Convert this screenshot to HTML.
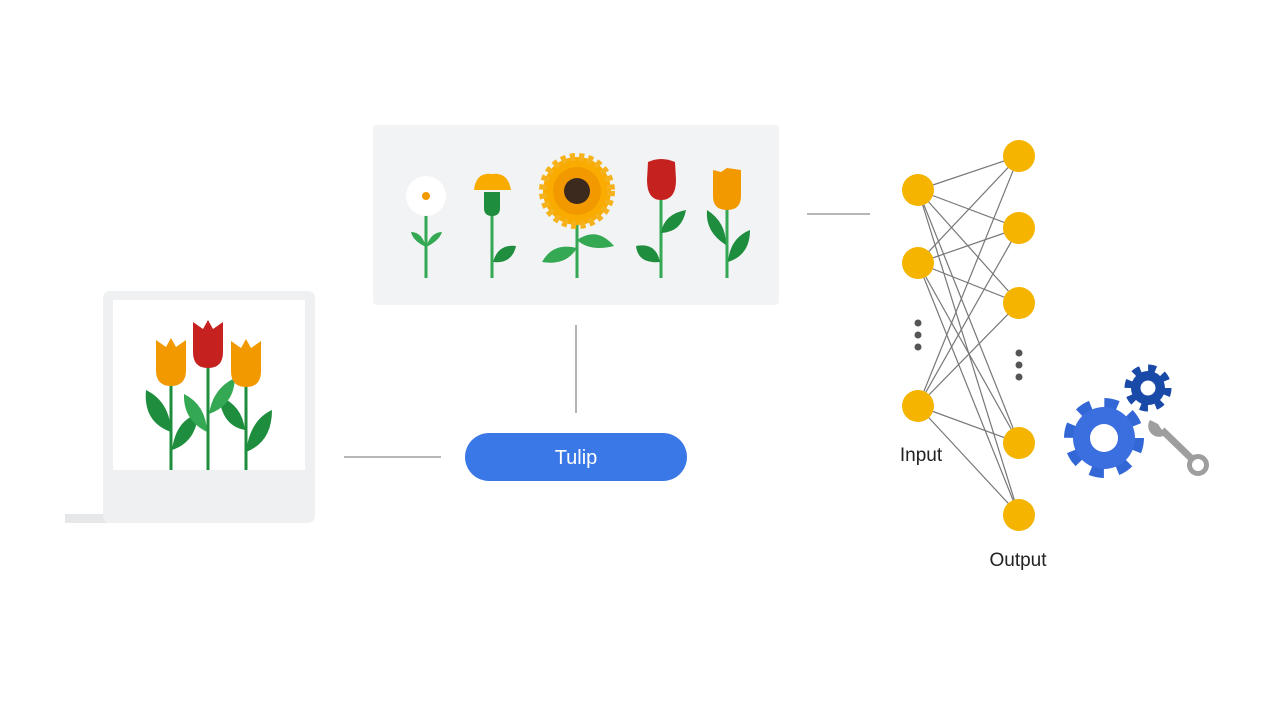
<!DOCTYPE html>
<html><head><meta charset="utf-8"><style>
html,body{margin:0;padding:0;background:#fff;}
svg{display:block}
text{font-family:"Liberation Sans",sans-serif}
</style></head><body>
<svg width="1280" height="720" viewBox="0 0 1280 720" xmlns="http://www.w3.org/2000/svg">
<defs>
<g id="tulipHead"><path d="M-15,-24 L-5,-17 L0,-26 L5,-17 L15,-24 L15,6 Q15,22 0,22 Q-15,22 -15,6 Z"/></g>
</defs>
<g stroke="#8a8a8a" stroke-width="1.3">
<line x1="807" y1="214" x2="870" y2="214"/>
<line x1="576" y1="325" x2="576" y2="413"/>
<line x1="344" y1="457" x2="441" y2="457"/>
</g>
<rect x="65" y="514" width="80" height="9" fill="#e6e7e9"/>
<rect x="103" y="291" width="212" height="232" rx="7" fill="#eef0f2"/>
<rect x="113" y="300" width="192" height="170" fill="#fff"/>
<g stroke="#1e8e3e" stroke-width="3">
<line x1="171" y1="385" x2="171" y2="470"/>
<line x1="208" y1="365" x2="208" y2="470"/>
<line x1="246" y1="385" x2="246" y2="470"/>
</g>
<g fill="#1e8e3e">
<path d="M171,432 Q143,422 146,390 Q170,402 171,432Z"/>
<path d="M172,450 Q176,420 198,414 Q196,442 172,450Z"/>
<path d="M246,452 Q250,420 272,410 Q272,442 246,452Z"/>
<path d="M245,430 Q222,426 219,396 Q242,405 245,430Z"/>
</g>
<g fill="#34a853">
<path d="M207,432 Q183,420 184,394 Q206,405 207,432Z"/>
<path d="M209,414 Q213,388 235,378 Q234,405 209,414Z"/>
</g>
<g fill="#f29900" transform="translate(171,364)"><use href="#tulipHead"/></g>
<g fill="#c5221f" transform="translate(208,346)"><use href="#tulipHead"/></g>
<g fill="#f29900" transform="translate(246,365)"><use href="#tulipHead"/></g>
<rect x="373" y="125" width="406" height="180" rx="4" fill="#f1f3f4"/>
<g stroke="#34a853" stroke-width="3">
<line x1="426" y1="205" x2="426" y2="278"/>
<line x1="492" y1="210" x2="492" y2="278"/>
<line x1="577" y1="220" x2="577" y2="278"/>
<line x1="661" y1="195" x2="661" y2="278"/>
<line x1="727" y1="205" x2="727" y2="278"/>
</g>
<g fill="#34a853">
<path d="M426,247 Q413,241 411,232 Q422,232 426,247Z"/>
<path d="M426,247 Q439,241 442,232 Q431,232 426,247Z"/>
<path d="M577,248 Q553,242 542,262 Q566,266 577,248Z"/>
<path d="M577,240 Q597,226 614,246 Q590,252 577,240Z"/>
</g>
<g fill="#1e8e3e">
<path d="M493,262 Q498,244 516,246 Q512,264 493,262Z"/>
<path d="M661,233 Q664,214 686,210 Q682,232 661,233Z"/>
<path d="M660,262 Q638,264 636,246 Q656,242 660,262Z"/>
<path d="M726,245 Q705,232 707,210 Q726,222 726,245Z"/>
<path d="M728,262 Q730,238 750,230 Q750,255 728,262Z"/>
</g>
<circle cx="426" cy="196" r="20" fill="#fff"/>
<circle cx="426" cy="196" r="4" fill="#f29900"/>
<path d="M474,190 Q476,172 492,174 Q508,172 511,190 Z" fill="#f9ab00"/>
<path d="M484,192 L500,192 L500,208 Q500,216 492,216 Q484,216 484,208Z" fill="#1e8e3e"/>
<circle cx="577" cy="191" r="34" fill="#f9ab00" stroke="#f6b21c" stroke-width="8" stroke-dasharray="5 4"/>
<circle cx="577" cy="191" r="24" fill="#f29900"/>
<circle cx="577" cy="191" r="13" fill="#3c2a1e"/>
<path d="M648,162 Q661,156 675,162 L676,180 Q676,200 661,200 Q647,200 647,180Z" fill="#c5221f"/>
<g fill="#f29900" transform="translate(727,192)"><path d="M-14,-22 L-6,-20 L0,-24 L14,-22 L14,4 Q14,18 0,18 Q-14,18 -14,4Z"/></g>
<rect x="465" y="433" width="222" height="48" rx="24" fill="#3b78e7"/>
<text x="576" y="464" text-anchor="middle" font-size="20" fill="#fff">Tulip</text>
<g stroke="#777" stroke-width="1.2">
<line x1="918" y1="190" x2="1019" y2="156"/><line x1="918" y1="190" x2="1019" y2="228"/><line x1="918" y1="190" x2="1019" y2="303"/><line x1="918" y1="190" x2="1019" y2="443"/><line x1="918" y1="190" x2="1019" y2="515"/>
<line x1="918" y1="263" x2="1019" y2="156"/><line x1="918" y1="263" x2="1019" y2="228"/><line x1="918" y1="263" x2="1019" y2="303"/><line x1="918" y1="263" x2="1019" y2="443"/><line x1="918" y1="263" x2="1019" y2="515"/>
<line x1="918" y1="406" x2="1019" y2="156"/><line x1="918" y1="406" x2="1019" y2="228"/><line x1="918" y1="406" x2="1019" y2="303"/><line x1="918" y1="406" x2="1019" y2="443"/><line x1="918" y1="406" x2="1019" y2="515"/>
</g>
<g fill="#f4b400">
<circle cx="918" cy="190" r="16"/><circle cx="918" cy="263" r="16"/><circle cx="918" cy="406" r="16"/>
<circle cx="1019" cy="156" r="16"/><circle cx="1019" cy="228" r="16"/><circle cx="1019" cy="303" r="16"/><circle cx="1019" cy="443" r="16"/><circle cx="1019" cy="515" r="16"/>
</g>
<g fill="#555">
<circle cx="918" cy="323" r="3.5"/><circle cx="918" cy="335" r="3.5"/><circle cx="918" cy="347" r="3.5"/>
<circle cx="1019" cy="353" r="3.5"/><circle cx="1019" cy="365" r="3.5"/><circle cx="1019" cy="377" r="3.5"/>
</g>
<text x="921" y="461" text-anchor="middle" font-size="19" fill="#222">Input</text>
<text x="1018" y="566" text-anchor="middle" font-size="19" fill="#222">Output</text>
<circle cx="1104" cy="438" r="35" fill="none" stroke="#3367d6" stroke-width="10" stroke-dasharray="13.7 13.8"/>
<circle cx="1104" cy="438" r="31" fill="#3b6fe0"/>
<circle cx="1104" cy="438" r="14" fill="#fff"/>
<circle cx="1148" cy="388" r="20" fill="none" stroke="#1a4aa8" stroke-width="7" stroke-dasharray="7.8 7.9"/>
<circle cx="1148" cy="388" r="17" fill="#1a4aa8"/>
<circle cx="1148" cy="388" r="7.5" fill="#fff"/>
<line x1="1162" y1="430" x2="1193" y2="460" stroke="#9e9e9e" stroke-width="7"/>
<circle cx="1198" cy="465" r="8.5" fill="#fff" stroke="#9e9e9e" stroke-width="5"/>
<path d="M1150,420 A10,10 0 1 0 1168,432 L1162,430 L1158,424Z" fill="#9e9e9e"/>
</svg>
</body></html>
